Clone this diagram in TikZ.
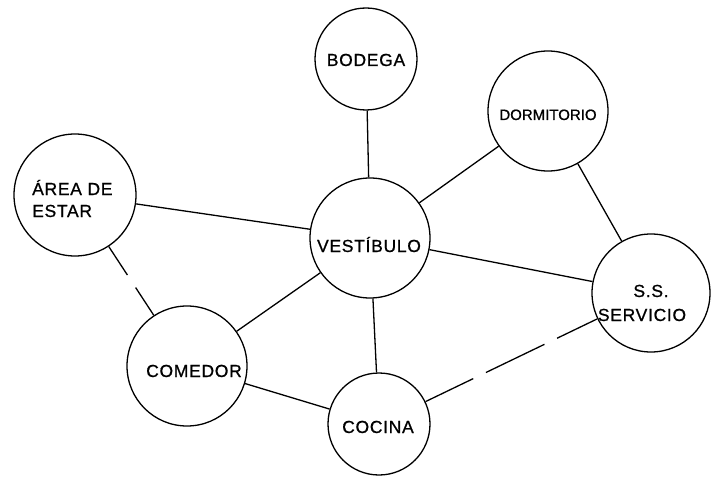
\documentclass[tikz,border=0pt]{standalone}
\usepackage{fontspec}
\newfontfamily\lbl[LetterSpace=4,FakeBold=0.8]{Liberation Sans}
\newfontfamily\lblc[FakeBold=0.8]{Liberation Sans}
\begin{document}
\begin{tikzpicture}[x=1pt,y=-1pt,
  room/.style={circle,draw=black,line width=1.3pt,inner sep=0pt},
  lab/.style={inner sep=0pt,anchor=base,font=\lbl\fontsize{17.5}{20}\selectfont},
  labc/.style={inner sep=0pt,anchor=base,font=\lblc\fontsize{15}{18}\selectfont},
  link/.style={line width=1.3pt}]
\useasboundingbox (0,0) rectangle (719,476);
% rooms
\node[room,minimum size=102pt] (bod) at (366,59) {};
\node[room,minimum size=120pt] (dor) at (548,111) {};
\node[room,minimum size=122pt] (are) at (75,195) {};
\node[room,minimum size=120pt] (ves) at (370,238) {};
\node[room,minimum size=118pt] (ss) at (651,293) {};
\node[room,minimum size=120pt] (com) at (187,366) {};
\node[room,minimum size=102pt] (coc) at (379,424) {};
% labels
\node[lab] (t-bod) at (366,66) {BODEGA};
\node[labc] (t-dor) at (548,120) {DORMITORIO};
\node[lab] (t-ves) at (369,252) {VESTÍBULO};
\node[lab] (t-com) at (194,377) {COMEDOR};
\node[lab] (t-coc) at (378,433) {COCINA};
\node[lab,anchor=base west] (t-are1) at (32,195) {ÁREA DE};
\node[lab,anchor=base west] (t-are2) at (32,217) {ESTAR};
\node[lab] (t-ss1) at (651,297) {S.S.};
\node[lab] (t-ss2) at (642,321) {SERVICIO};
% connectors
\draw[link] (bod) -- (ves);
\draw[link] (dor) -- (ves);
\draw[link] (are) -- (ves);
\draw[link] (ves) -- (ss);
\draw[link] (dor) -- (ss);
\draw[link] (ves) -- (com);
\draw[link] (ves) -- (coc);
\draw[link] (com) -- (coc);
\draw[link,dash pattern=on 34pt off 15pt on 60pt] (are) -- (com);
\draw[link,dash pattern=on 53pt off 14pt on 65pt off 14pt on 80pt] (coc) -- (ss);
\end{tikzpicture}
\end{document}
